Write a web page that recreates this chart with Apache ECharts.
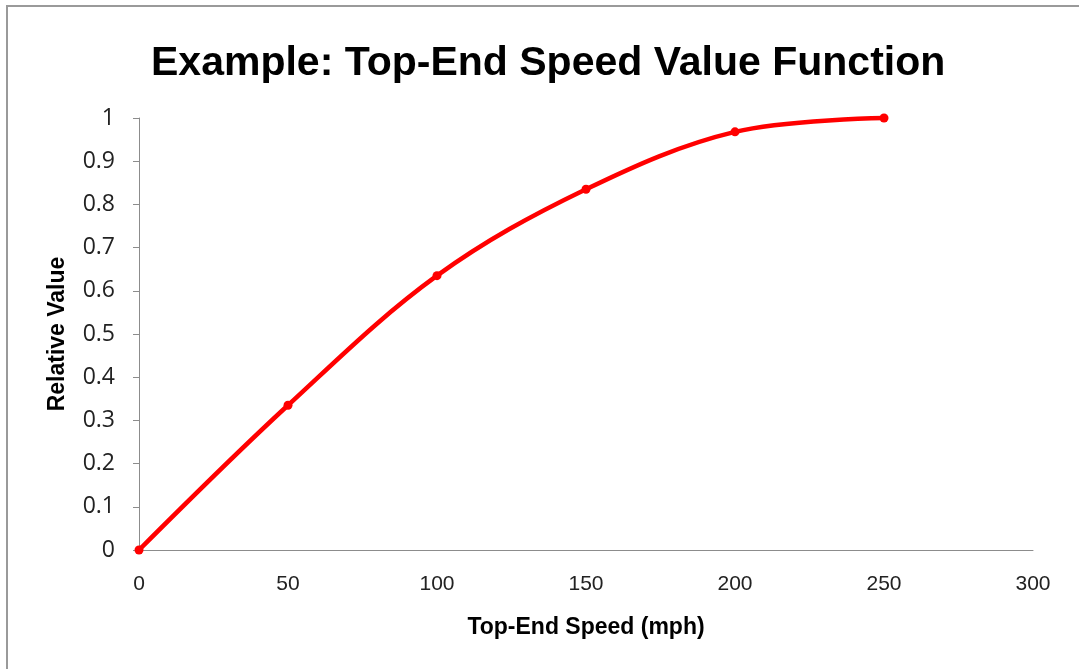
<!DOCTYPE html>
<html>
<head>
<meta charset="utf-8">
<script src="https://cdn.jsdelivr.net/npm/echarts@6/dist/echarts.min.js"></script>
<style>
html,body{margin:0;padding:0;background:#fff;}
#frame{position:absolute;left:0;top:0;width:1079px;height:669px;}
#border{position:absolute;left:6px;top:5px;width:1073px;height:664px;border-top:2px solid #9a9a9a;border-left:2px solid #9a9a9a;box-sizing:border-box;pointer-events:none;}
#chart{position:absolute;left:0;top:0;width:1079px;height:669px;}
</style>
</head>
<body>
<div id="frame">
<div id="chart"></div>
<div id="border"></div>
</div>
<script>
const speeds = [0, 50, 100, 150, 200, 250];
const values = [0, 0.335, 0.635, 0.835, 0.968, 1.0];
const xTicks = [0, 50, 100, 150, 200, 250, 300];
const yTicks = [0, 0.1, 0.2, 0.3, 0.4, 0.5, 0.6, 0.7, 0.8, 0.9, 1];

const chart = echarts.init(document.getElementById('chart'), null, {renderer: 'canvas'});
const labelFont = "'Liberation Sans', sans-serif";
chart.setOption({
  animation: false,
  backgroundColor: '#fff',
  title: {
    text: 'Example: Top-End Speed Value Function',
    left: 146,
    top: 38,
    textStyle: {fontFamily: labelFont, fontWeight: 'bold', fontSize: 41, color: '#000'}
  },
  grid: {left: 139, right: 46, top: 118, bottom: 119, containLabel: false},
  xAxis: {
    type: 'value',
    min: xTicks[0], max: xTicks[xTicks.length - 1], interval: 50,
    name: 'Top-End Speed (mph)',
    nameLocation: 'middle',
    nameGap: 66,
    nameTextStyle: {fontFamily: labelFont, fontWeight: 'bold', fontSize: 23, color: '#000'},
    axisLine: {show: true, lineStyle: {color: '#8c8c8c', width: 1}},
    axisTick: {show: false},
    splitLine: {show: false},
    axisLabel: {margin: 24, fontFamily: labelFont, fontSize: 21, color: '#222'}
  },
  yAxis: {
    type: 'value',
    min: yTicks[0], max: yTicks[yTicks.length - 1], interval: 0.1,
    name: 'Relative Value',
    nameLocation: 'middle',
    nameGap: 70,
    nameTextStyle: {fontFamily: labelFont, fontWeight: 'bold', fontSize: 23, color: '#000'},
    axisLine: {show: true, lineStyle: {color: '#8c8c8c', width: 1}},
    axisTick: {show: true, length: 6, lineStyle: {color: '#8c8c8c'}},
    splitLine: {show: false},
    axisLabel: {margin: 24, fontFamily: "'Open Sans', sans-serif", fontSize: 23, color: '#222',
      formatter: v => String(Math.round(v * 10) / 10)}
  },
  series: [{
    type: 'line',
    data: speeds.map((s, i) => [s, values[i]]),
    smooth: 0.35,
    symbol: 'circle',
    symbolSize: 9,
    lineStyle: {color: '#ff0000', width: 4.5},
    itemStyle: {color: '#ff0000'},
    clip: false
  }]
});
</script>
</body>
</html>
